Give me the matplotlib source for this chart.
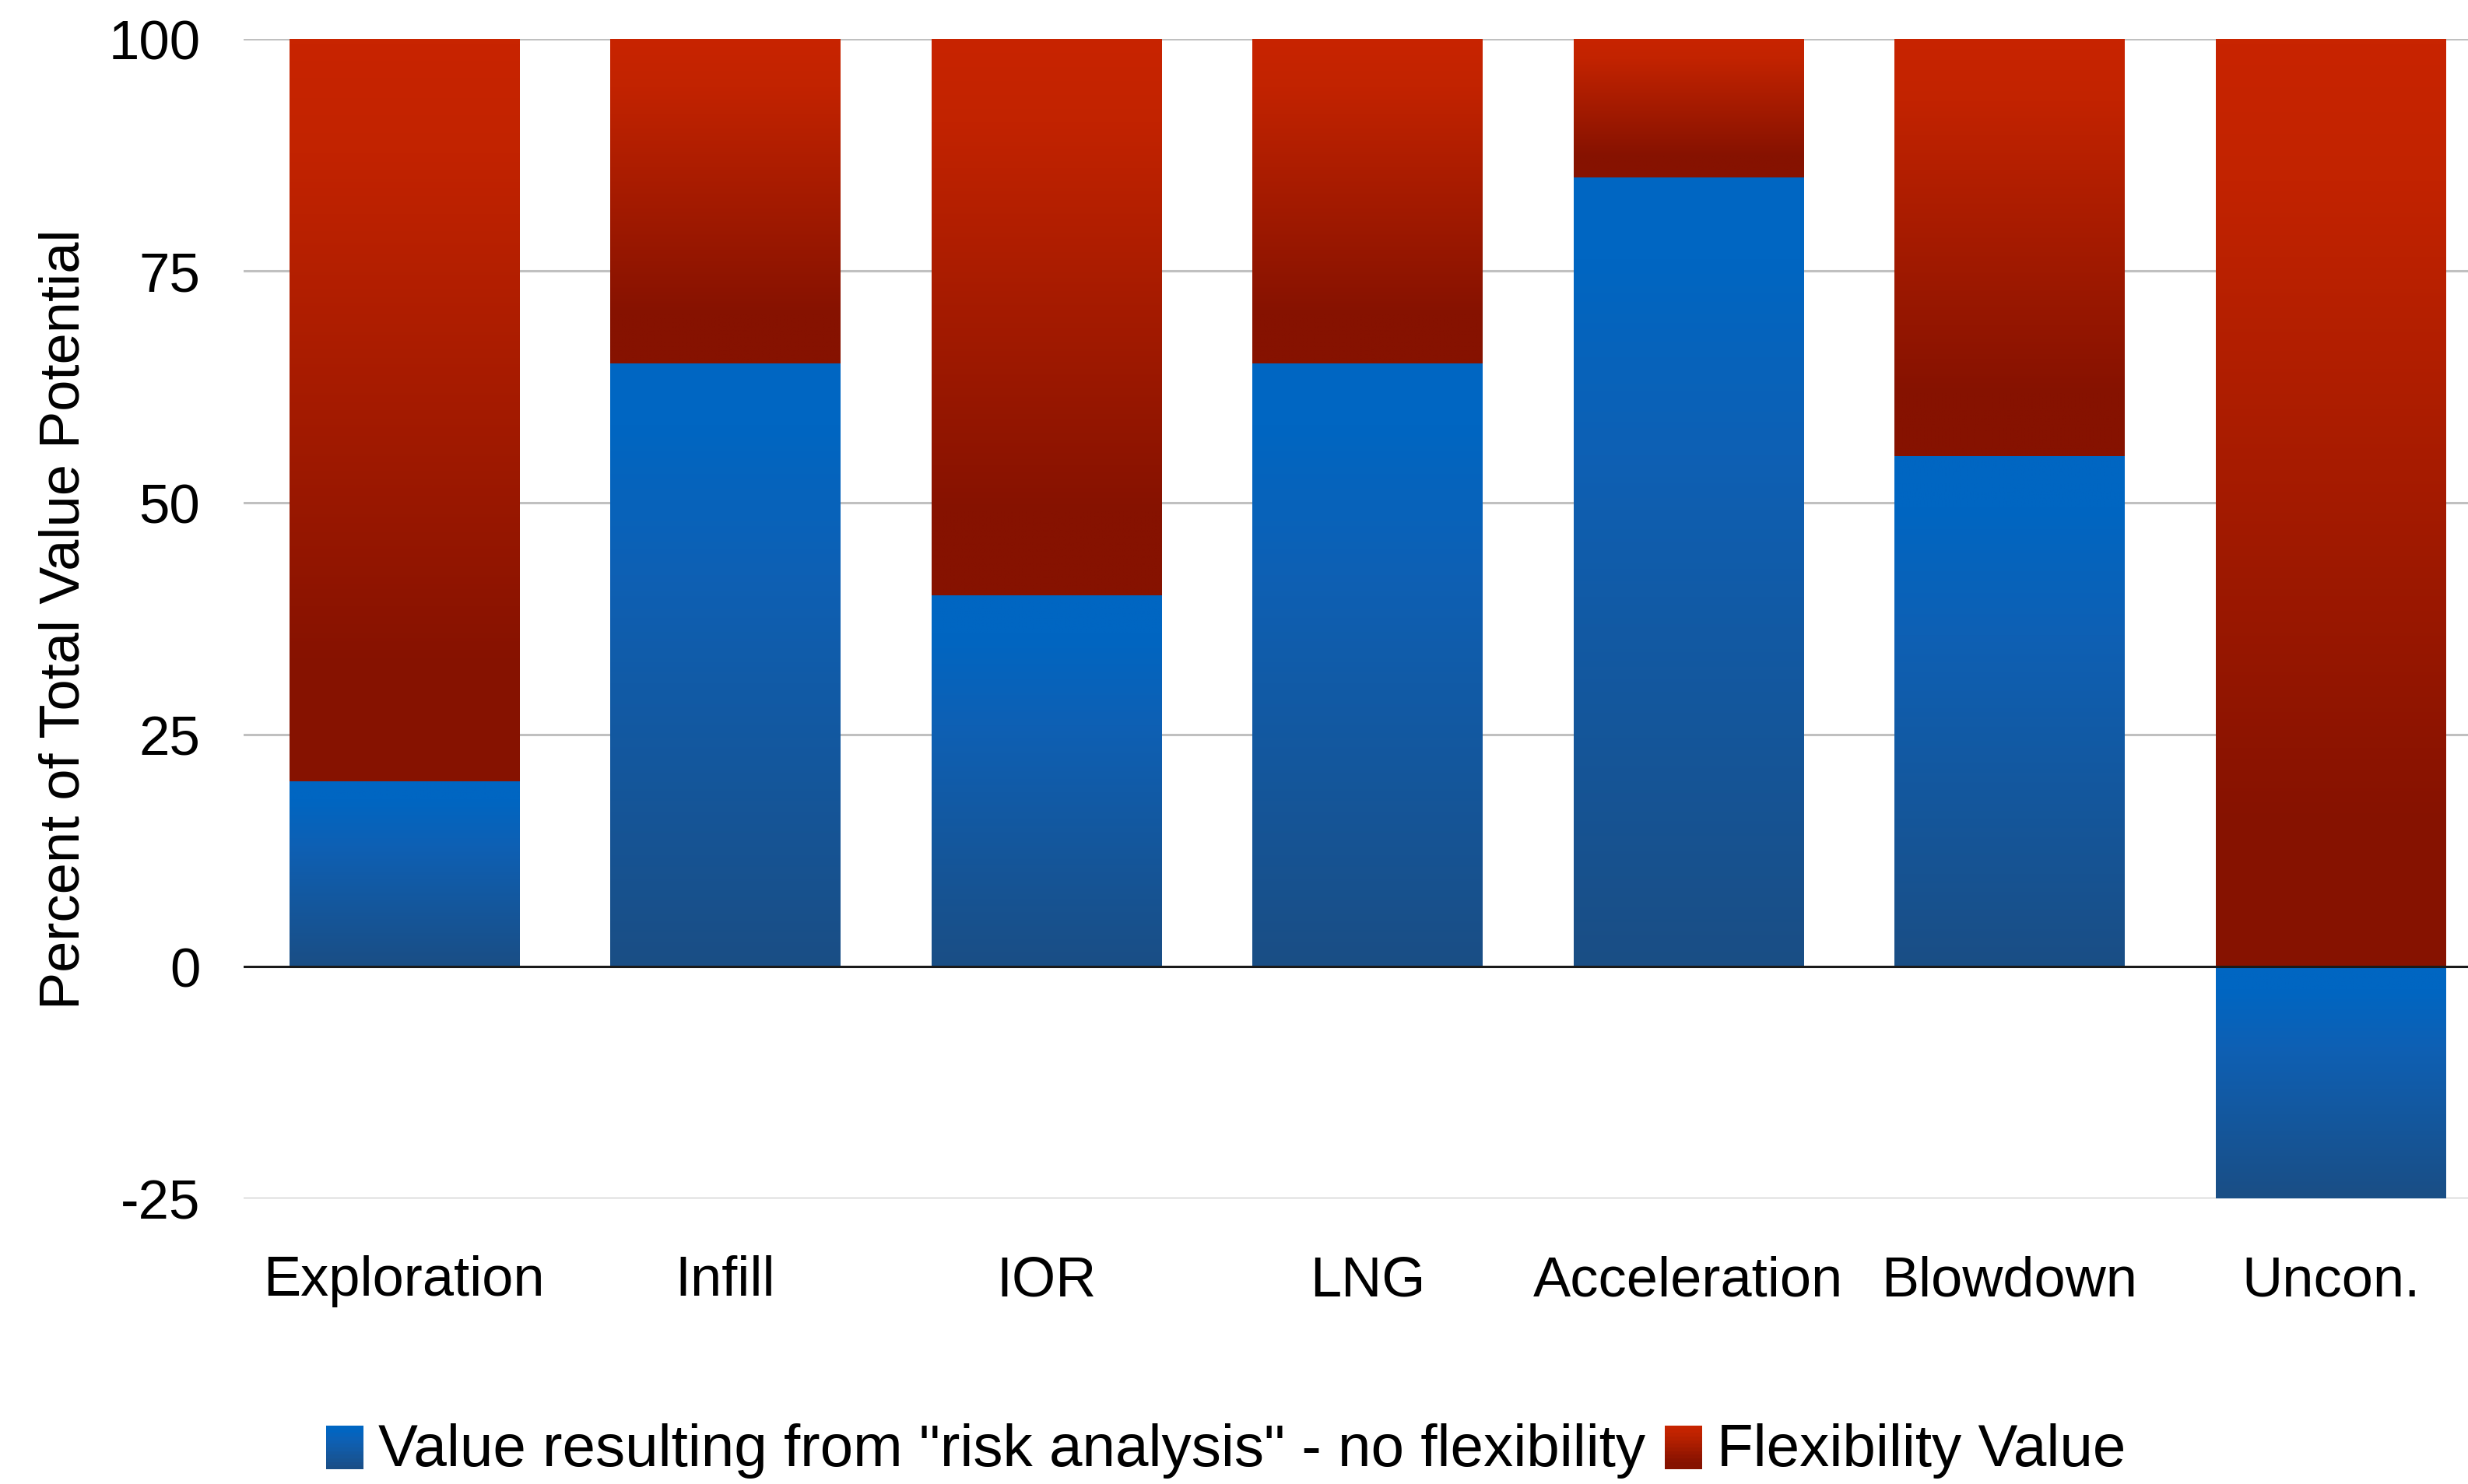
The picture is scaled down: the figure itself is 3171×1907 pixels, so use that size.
import numpy as np
import matplotlib
matplotlib.use("Agg")
import matplotlib.pyplot as plt
from matplotlib.colors import LinearSegmentedColormap
from matplotlib.patches import Rectangle
from matplotlib.legend_handler import HandlerBase

plt.rcParams["font.family"] = ["Liberation Sans", "DejaVu Sans"]

# --- data
categories = ["Exploration", "Infill", "IOR", "LNG", "Acceleration", "Blowdown", "Uncon."]
risk_value = [20, 65, 40, 65, 85, 55, -25]
flex_value = [80, 35, 60, 35, 15, 45, 100]
series_names = ['Value resulting from "risk analysis" - no flexibility', "Flexibility Value"]
y_ticks = [-25, 0, 25, 50, 75, 100]

# --- gradients, top -> bottom
blue_cmap = LinearSegmentedColormap.from_list(
    "blue_grad", [(0.0, "#0066c2"), (0.1, "#0066c2"), (0.35, "#0e60b4"), (1.0, "#1a4e85")])
red_cmap = LinearSegmentedColormap.from_list(
    "red_grad", [(0.0, "#c82400"), (0.15, "#c22300"), (0.85, "#861200"), (1.0, "#861200")])
grad = np.linspace(0, 1, 256).reshape(-1, 1)


def fill_gradient(ax, bars, cmap):
    for p in bars.patches:
        x0, y0 = p.get_x(), p.get_y()
        w, h = p.get_width(), p.get_height()
        if h == 0:
            continue
        lo, hi = min(y0, y0 + h), max(y0, y0 + h)
        ax.imshow(grad, cmap=cmap, aspect="auto", origin="upper",
                  extent=(x0, x0 + w, lo, hi), zorder=2, interpolation="bilinear")


class GradientHandler(HandlerBase):
    def __init__(self, cmap):
        super().__init__()
        self.cmap = cmap

    def create_artists(self, legend, orig_handle, xdescent, ydescent, width, height, fontsize, trans):
        arts = []
        n = 12
        side = height * 1.05
        x0 = -xdescent + (width - side * 0.85)
        for i in range(n):
            c = self.cmap((i + 0.5) / n)
            r = Rectangle((x0, -ydescent - 0.1 * height + side * (n - 1 - i) / n), side * 0.85, side / n,
                          facecolor=c, edgecolor="none", transform=trans)
            arts.append(r)
        return arts


fig = plt.figure(figsize=(31.71, 19.08), dpi=100)
ax = fig.add_axes([0.0987, 0.1923, 0.9107, 0.7812])

x = np.arange(len(categories))
width = 0.716
bottoms = [max(v, 0) for v in risk_value]

b1 = ax.bar(x, risk_value, width, color="none", linewidth=0, zorder=2)
b2 = ax.bar(x, flex_value, width, bottom=bottoms, color="none", linewidth=0, zorder=2)
fill_gradient(ax, b1, blue_cmap)
fill_gradient(ax, b2, red_cmap)

ax.set_xlim(-0.5, len(categories) - 0.5)
ax.set_ylim(-25, 100)
ax.set_yticks(y_ticks)
ax.set_yticklabels([str(t) for t in y_ticks], fontsize=51)
ax.set_xticks(x)
ax.set_xticklabels(categories, fontsize=52)
ax.tick_params(axis="both", length=0)
ax.tick_params(axis="x", pad=52)
ax.tick_params(axis="y", pad=40)

ax.grid(axis="y", color="#c0c0c0", linewidth=2.2, zorder=0)
ax.set_axisbelow(True)
ax.axhline(0, color="#1a1a1a", linewidth=2.2, zorder=3)
for s in ax.spines.values():
    s.set_visible(False)

ax.set_ylabel("Percent of Total Value Potential", fontsize=52)
ax.yaxis.set_label_coords(-0.068, 0.5)

h1, h2 = Rectangle((0, 0), 1, 1), Rectangle((0, 0), 1, 1)
fig.legend([h1, h2], series_names, loc="center", bbox_to_anchor=(0.497, 0.023),
           ncol=2, frameon=False, fontsize=55, handlelength=0.6, handletextpad=0.25,
           columnspacing=0.35,
           handler_map={h1: GradientHandler(blue_cmap), h2: GradientHandler(red_cmap)})

fig.savefig("out.png", dpi=100)
